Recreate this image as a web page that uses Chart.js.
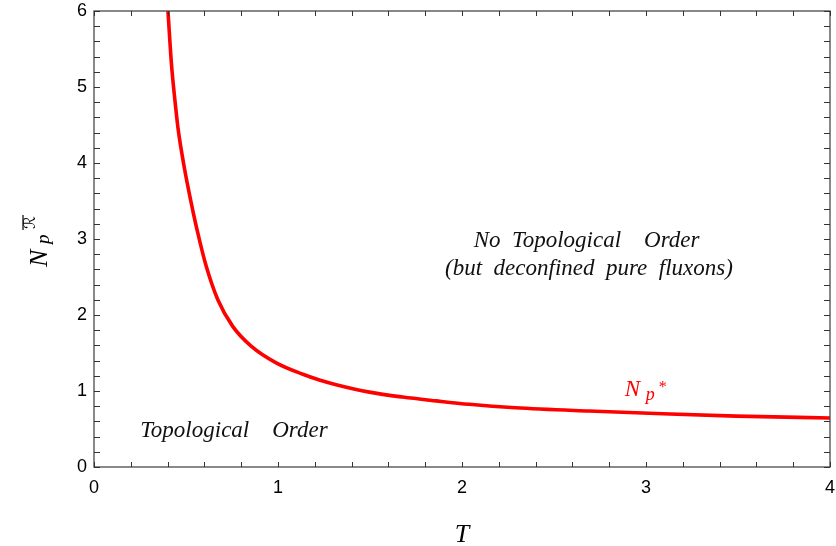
<!DOCTYPE html>
<html>
<head>
<meta charset="utf-8">
<script src="https://cdn.jsdelivr.net/npm/chart.js@4.4.1/dist/chart.umd.min.js"></script>
<style>
  html, body { margin: 0; padding: 0; background: #fff; }
</style>
</head>
<body>
<canvas id="myChart" width="836" height="546"></canvas>
<script>
// дані
var tValues  = [0.402, 0.421, 0.44, 0.457, 0.49, 0.528, 0.564, 0.61, 0.673, 0.754, 0.854, 0.99, 1.135, 1.225, 1.316, 1.497, 1.678, 1.86, 2.04, 2.29, 2.69, 3.09, 3.49, 4.0];
var npValues = [6.0, 5.30, 4.82, 4.45, 3.95, 3.48, 3.08, 2.64, 2.20, 1.85, 1.59, 1.37, 1.22, 1.145, 1.083, 0.985, 0.92, 0.87, 0.825, 0.78, 0.736, 0.70, 0.67, 0.645];
var xTickLabels = ['0', '1', '2', '3', '4'];
var yTickLabels = ['0', '1', '2', '3', '4', '5', '6'];

var points = tValues.map(function (t, i) { return { x: t, y: npValues[i] }; });

// рамка, мітки, підписи
var decorPlugin = {
    id: 'decor',
    afterDraw: function (chart) {
        var c = chart.ctx, a = chart.chartArea;
        var xs = chart.scales.x, ys = chart.scales.y;
        c.save();

        // рамка
        c.strokeStyle = '#4a4a4a';
        c.lineWidth = 1.3;
        c.strokeRect(a.left, a.top, a.right - a.left, a.bottom - a.top);

        // короткі мітки всередину
        c.strokeStyle = '#333';
        c.lineWidth = 1;
        c.beginPath();
        for (var i = 0; i <= 20; i++) {
            var px = Math.round(xs.getPixelForValue(i * 0.2)) + 0.5;
            c.moveTo(px, a.bottom); c.lineTo(px, a.bottom - 5);
            c.moveTo(px, a.top); c.lineTo(px, a.top + 5);
        }
        for (var j = 0; j <= 30; j++) {
            var py = Math.round(ys.getPixelForValue(j * 0.2)) + 0.5;
            c.moveTo(a.left, py); c.lineTo(a.left + 6, py);
            c.moveTo(a.right, py); c.lineTo(a.right - 6, py);
        }
        c.stroke();

        // тексти в області графіка
        c.fillStyle = '#111';
        c.textBaseline = 'alphabetic';
        c.font = 'italic 23px "Liberation Serif"';
        c.textAlign = 'left';
        c.fillText('Topological    Order', xs.getPixelForValue(0.251), ys.getPixelForValue(0.40));
        c.textAlign = 'center';
        c.fillText('No  Topological    Order', xs.getPixelForValue(2.677), ys.getPixelForValue(2.89));
        c.fillText('(but  deconfined  pure  fluxons)', xs.getPixelForValue(2.69), ys.getPixelForValue(2.52));

        // N_p^* червоним
        c.fillStyle = '#ff0000';
        c.textAlign = 'left';
        var nx = xs.getPixelForValue(2.885), ny = ys.getPixelForValue(0.93);
        c.font = 'italic 23px "Liberation Serif"';
        c.fillText('N', nx, ny);
        c.font = 'italic 18px "Liberation Serif"';
        c.fillText('p', nx + 21, ny + 4);
        c.font = '16px "Liberation Serif"';
        c.fillText('*', nx + 34, ny - 4);

        // підпис осі X
        c.fillStyle = '#000';
        c.textAlign = 'center';
        c.font = 'italic 26px "Liberation Serif"';
        c.fillText('T', (a.left + a.right) / 2, 542);

        // підпис осі Y
        c.translate(47, 267);
        c.rotate(-Math.PI / 2);
        c.textAlign = 'left';
        c.font = 'italic 26px "Liberation Serif"';
        c.fillText('N', 0, 0);
        c.font = 'italic 19px "Liberation Serif"';
        c.fillText('p', 23, 2);
        c.font = '16px "DejaVu Serif", "DejaVu Sans", serif';
        c.fillText('\u211B', 38, -12);
        c.strokeStyle = '#000';
        c.lineWidth = 1.2;
        c.beginPath();
        c.moveTo(37, -24); c.lineTo(52, -24);
        c.stroke();

        c.restore();
    }
};

function renderChart() {
    var ctx = document.getElementById('myChart').getContext('2d');
    var tickFont = { family: 'Liberation Sans', size: 18 };

    var myChart = new Chart(ctx, {
        type: 'line',
        data: {
            datasets: [{
                data: points,
                borderColor: '#ff0000',
                borderWidth: 3.6,
                pointRadius: 0,
                fill: false,
                cubicInterpolationMode: 'monotone'
            }]
        },
        options: {
            responsive: false,
            animation: false,
            devicePixelRatio: 1,
            layout: { padding: { top: 11, right: 6, left: 0, bottom: 0 } },
            plugins: { legend: { display: false }, tooltip: { enabled: false } },
            scales: {
                x: {
                    type: 'linear', min: 0, max: 4,
                    grid: { display: true, drawOnChartArea: false, drawTicks: true, tickLength: 10, color: 'rgba(0,0,0,0)' },
                    border: { display: false },
                    ticks: {
                        stepSize: 1, padding: 0, color: '#000', font: tickFont,
                        maxRotation: 0,
                        callback: function (v) { return xTickLabels[v]; }
                    },
                    afterFit: function (s) { s.height = 79; }
                },
                y: {
                    type: 'linear', min: 0, max: 6,
                    grid: { display: true, drawOnChartArea: false, drawTicks: true, tickLength: 7, color: 'rgba(0,0,0,0)' },
                    border: { display: false },
                    ticks: {
                        stepSize: 1, padding: 0, color: '#000', font: tickFont,
                        callback: function (v) { return yTickLabels[v]; }
                    },
                    afterFit: function (s) { s.width = 94; }
                }
            }
        },
        plugins: [decorPlugin]
    });
}

renderChart();
</script>
</body>
</html>
